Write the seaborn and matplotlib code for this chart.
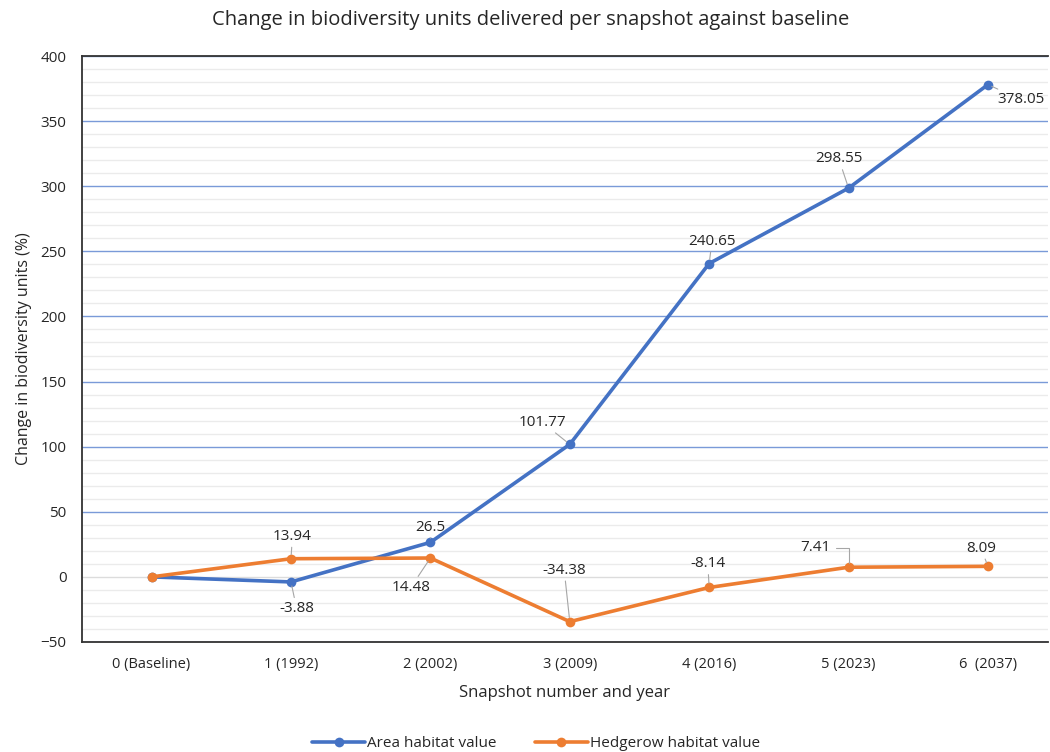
import pandas as pd
import numpy as np
import matplotlib
matplotlib.use("Agg")
import matplotlib.pyplot as plt
import seaborn as sns
from matplotlib.ticker import MultipleLocator

snapshots = ["0 (Baseline)", "1 (1992)", "2 (2002)", "3 (2009)", "4 (2016)", "5 (2023)", "6  (2037)"]
area_values = [0, -3.88, 26.5, 101.77, 240.65, 298.55, 378.05]
hedgerow_values = [0, 13.94, 14.48, -34.38, -8.14, 7.41, 8.09]
area_labels = ["", "-3.88", "26.5", "101.77", "240.65", "298.55", "378.05"]
hedgerow_labels = ["", "13.94", "14.48", "-34.38", "-8.14", "7.41", "8.09"]

df = pd.DataFrame({
    "pos": list(range(len(snapshots))) * 2,
    "value": area_values + hedgerow_values,
    "series": ["Area habitat value"] * len(snapshots) + ["Hedgerow habitat value"] * len(snapshots),
})

sns.set_style("white")
plt.rcParams["font.family"] = ["Open Sans", "DejaVu Sans"]

fig = plt.figure(figsize=(10.5, 7.52), dpi=100)
ax = fig.add_axes([0.078, 0.1463, 0.92, 0.7792])

blue = "#4472C4"
orange = "#ED7D31"

sns.lineplot(data=df, x="pos", y="value", hue="series", palette=[blue, orange],
             marker="o", markersize=7, markeredgewidth=0, linewidth=2.6, ax=ax, zorder=3)

ax.set_xlim(-0.5, 6.43)
ax.set_ylim(-50, 400)
ax.yaxis.set_major_locator(MultipleLocator(50))
ax.yaxis.set_minor_locator(MultipleLocator(10))
ax.set_xticks(range(len(snapshots)))
ax.set_xticklabels(snapshots)
ax.tick_params(axis="x", length=0, labelsize=10.5, pad=11)
ax.tick_params(axis="y", length=0, labelsize=11, pad=11)

ax.grid(True, which="minor", axis="y", color="#ebebeb", linewidth=1, zorder=0)
ax.grid(True, which="major", axis="y", color="#7a9ad8", linewidth=1, zorder=1)
ax.grid(False, axis="x")
for gl, v in zip(ax.get_ygridlines(), ax.get_yticks()):
    if v == 0:
        gl.set_color("#dcdcdc")

for side in ["left", "top", "bottom"]:
    ax.spines[side].set_color("#333333")
    ax.spines[side].set_linewidth(1.3)
ax.spines["right"].set_visible(False)

ax.set_xlabel("Snapshot number and year", fontsize=12, labelpad=9)
ax.set_ylabel("Change in biodiversity units (%)", fontsize=11.5, labelpad=6)
ax.set_title("Change in biodiversity units delivered per snapshot against baseline",
             fontsize=14.5, pad=22, x=0.465)

# label offsets in points (dx, dy)
area_off = [None, (4, -19), (0, 11), (-20, 16), (2, 16), (-7, 21), (24, -11)]
hedge_off = [None, (1, 16), (-14, -21), (-4, 37), (-1, 17), (-24, 14), (-5, 13)]
leader = dict(arrowstyle="-", color="#a6a6a6", lw=0.8, shrinkA=0, shrinkB=3)
elbow = dict(arrowstyle="-", color="#a6a6a6", lw=0.8, shrinkA=2, shrinkB=3,
             relpos=(1, 0.5), connectionstyle="angle,angleA=0,angleB=90,rad=0")

for i, (lab, off) in enumerate(zip(area_labels, area_off)):
    if lab:
        ax.annotate(lab, (i, area_values[i]), xytext=off, textcoords="offset points",
                    ha="center", va="center", fontsize=11, arrowprops=leader, zorder=4)
for i, (lab, off) in enumerate(zip(hedgerow_labels, hedge_off)):
    if lab:
        props = elbow if lab == "7.41" else leader
        ax.annotate(lab, (i, hedgerow_values[i]), xytext=off, textcoords="offset points",
                    ha="center", va="center", fontsize=11, arrowprops=props, zorder=4)

ax.legend(loc="upper center", bbox_to_anchor=(0.47, -0.137), ncol=2, frameon=False,
          fontsize=11, handlelength=3.5, handletextpad=0.1, columnspacing=2.5)

fig.savefig("out.png", dpi=100)
